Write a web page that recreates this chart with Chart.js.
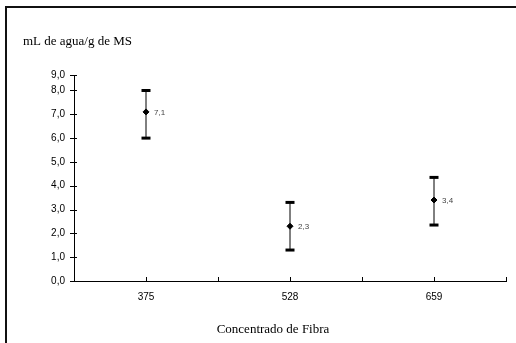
<!DOCTYPE html>
<html>
<head>
<meta charset="utf-8">
<style>
  html, body { margin: 0; padding: 0; background: #fff; }
  #wrap { position: relative; width: 516px; height: 343px; overflow: hidden; }
  #frame { position: absolute; left: 5px; top: 6px; width: 511px; height: 340px; border-top: 2px solid #111; border-left: 2px solid #111; box-sizing: border-box; pointer-events: none; }
  canvas { position: absolute; left: 0; top: 0; }
</style>
<script src="https://cdn.jsdelivr.net/npm/chart.js"></script>
</head>
<body>
<div id="wrap">
  <canvas id="chart" width="516" height="343"></canvas>
  <div id="frame"></div>
</div>
<script>
// ===== DATA =====
const categories = ["375", "528", "659"];
const means = [7.1, 2.3, 3.4];
const lows = [6.0, 1.3, 2.35];
const highs = [8.0, 3.3, 4.35];
const yTickValues = [0, 1, 2, 3, 4, 5, 6, 7, 8, 8.65];
const yTickLabels = ["0,0", "1,0", "2,0", "3,0", "4,0", "5,0", "6,0", "7,0", "8,0", "9,0"];
const yTitle = "mL de agua/g de MS";
const xTitle = "Concentrado de Fibra";

// categories sit on odd slots of a 0..6 axis, with a tick between each
const xPos = i => 2 * i + 1;
const xTickValues = [0, 1, 2, 3, 4, 5, 6];

const sansFont = { family: "'Liberation Sans', Arial, sans-serif", size: 10 };

const whiskers = categories.flatMap((c, i) => [
  { x: xPos(i), y: lows[i] },
  { x: xPos(i), y: highs[i] },
  { x: xPos(i) + 1, y: null },
]);
const caps = categories.flatMap((c, i) => [
  { x: xPos(i), y: lows[i] },
  { x: xPos(i), y: highs[i] },
]);
const points = categories.map((c, i) => ({ x: xPos(i), y: means[i] }));

// short tick marks crossing the axes, value labels and axis titles
const extras = {
  id: "extras",
  afterDatasetsDraw(chart) {
    const { ctx, chartArea, scales } = chart;
    ctx.save();
    ctx.strokeStyle = "#000";
    ctx.lineWidth = 1;
    ctx.beginPath();
    scales.x.ticks.forEach(t => {
      const px = Math.round(scales.x.getPixelForValue(t.value)) + 0.5;
      ctx.moveTo(px, chartArea.bottom - 4);
      ctx.lineTo(px, chartArea.bottom);
    });
    scales.y.ticks.forEach(t => {
      const py = Math.round(scales.y.getPixelForValue(t.value)) + 0.5;
      ctx.moveTo(chartArea.left - 4, py);
      ctx.lineTo(chartArea.left + 3, py);
    });
    ctx.stroke();

    const meta = chart.getDatasetMeta(2);
    ctx.fillStyle = "#444";
    ctx.font = "8px 'Liberation Sans', Arial, sans-serif";
    ctx.textBaseline = "middle";
    ctx.textAlign = "left";
    meta.data.forEach((el, i) => {
      ctx.fillText(means[i].toFixed(1).replace(".", ","), el.x + 8, el.y + 1);
    });

    ctx.fillStyle = "#000";
    ctx.font = "13px 'Liberation Serif', 'Times New Roman', serif";
    ctx.fillText(yTitle, 23, 42);
    ctx.textAlign = "center";
    ctx.fillText(xTitle, 273, 330);
    ctx.restore();
  }
};

new Chart(document.getElementById("chart"), {
  type: "scatter",
  data: {
    datasets: [
      {
        data: whiskers,
        showLine: true,
        spanGaps: false,
        borderColor: "#000",
        borderWidth: 1,
        pointRadius: 0,
      },
      {
        data: caps,
        pointStyle: "line",
        pointRadius: 4.5,
        borderColor: "#000",
        borderWidth: 3,
      },
      {
        data: points,
        pointStyle: "rectRot",
        pointRadius: 3,
        backgroundColor: "#000",
        borderColor: "#000",
        borderWidth: 1,
      },
    ]
  },
  options: {
    responsive: false,
    animation: false,
    layout: { padding: { left: 0, right: 5, top: 75, bottom: 0 } },
    plugins: { legend: { display: false }, tooltip: { enabled: false } },
    scales: {
      x: {
        type: "linear",
        min: 0,
        max: 6,
        afterBuildTicks: s => { s.ticks = xTickValues.map(v => ({ value: v })); },
        afterFit: s => { s.height = 62; },
        grid: { drawOnChartArea: false, drawTicks: false },
        border: { color: "#000", width: 1 },
        ticks: {
          autoSkip: false,
          maxRotation: 0,
          padding: 10,
          color: "#000",
          font: sansFont,
          callback: v => (v % 2 === 1 ? categories[(v - 1) / 2] : ""),
        },
      },
      y: {
        min: 0,
        max: 8.65,
        afterBuildTicks: s => { s.ticks = yTickValues.map(v => ({ value: v })); },
        afterFit: s => { s.width = 74; },
        grid: { drawOnChartArea: false, drawTicks: false },
        border: { color: "#000", width: 1 },
        ticks: {
          padding: 9,
          color: "#000",
          font: sansFont,
          callback: (v, i) => yTickLabels[i],
        },
      },
    }
  },
  plugins: [extras]
});
</script>
</body>
</html>
